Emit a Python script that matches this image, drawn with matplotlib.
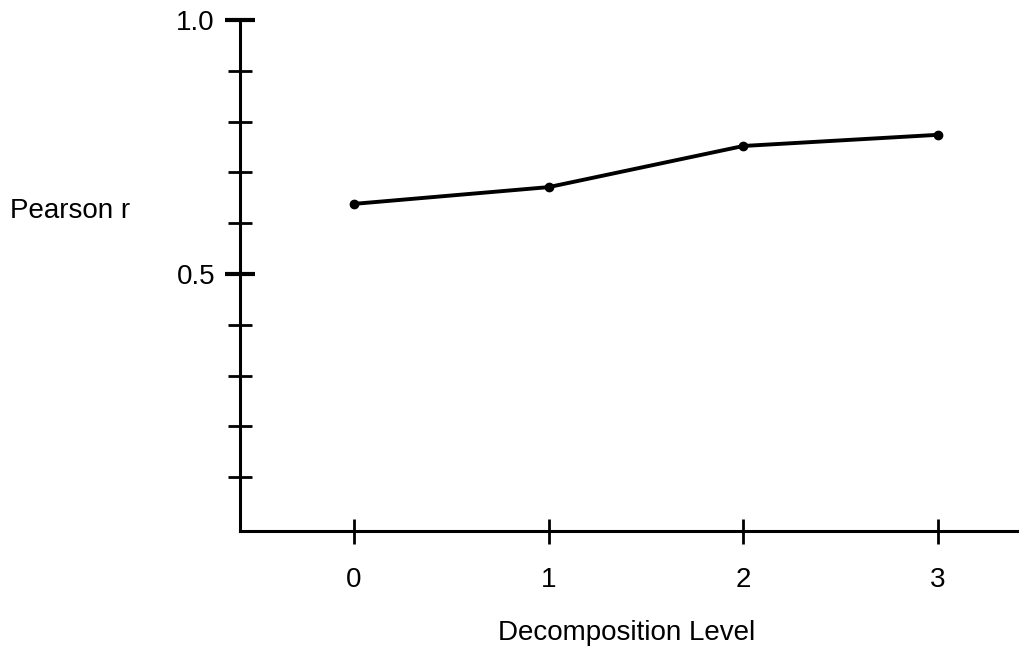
import matplotlib
matplotlib.use("Agg")
import matplotlib.pyplot as plt
from matplotlib.ticker import FixedLocator

levels = [0, 1, 2, 3]
pearson_r = [0.638, 0.671, 0.752, 0.774]
xtick_labels = ["0", "1", "2", "3"]
ytick_values = [0.5, 1.0]
ytick_labels = ["0.5", "1.0"]
ytick_minor = [0.1, 0.2, 0.3, 0.4, 0.6, 0.7, 0.8, 0.9]

plt.rcParams['font.family'] = ['Liberation Sans', 'DejaVu Sans']

fig = plt.figure(figsize=(10.24, 6.56), dpi=100)
ax = fig.add_axes([240/1024, (656-531)/656, (1017-240)/1024, (531-20)/656])

ax.plot(levels, pearson_r, color='black', linewidth=2.8, marker='o', markersize=6,
        solid_capstyle='butt')

ax.set_xlim(-0.585, 3.405)
ax.set_ylim(-0.006, 1.0)

for s in ['top', 'right']:
    ax.spines[s].set_visible(False)
for s in ['left', 'bottom']:
    ax.spines[s].set_linewidth(2.2)

ax.set_xticks(levels)
ax.set_xticklabels(xtick_labels)
ax.set_yticks(ytick_values)
ax.set_yticklabels(ytick_labels)
ax.yaxis.set_minor_locator(FixedLocator(ytick_minor))

ax.tick_params(axis='x', which='major', direction='inout', length=18, width=2.0,
               labelsize=20, pad=17)
ax.tick_params(axis='y', which='major', direction='inout', length=22, width=3.0,
               labelsize=20, pad=7)
ax.tick_params(axis='y', which='minor', direction='inout', length=17, width=2.0)

fig.text(10/1024, 1 - 218/656, "Pearson r", fontsize=20, ha='left', va='baseline')
fig.text(627/1024, 1 - 640/656, "Decomposition Level", fontsize=20, ha='center', va='baseline')

fig.savefig("out.png", dpi=100)
